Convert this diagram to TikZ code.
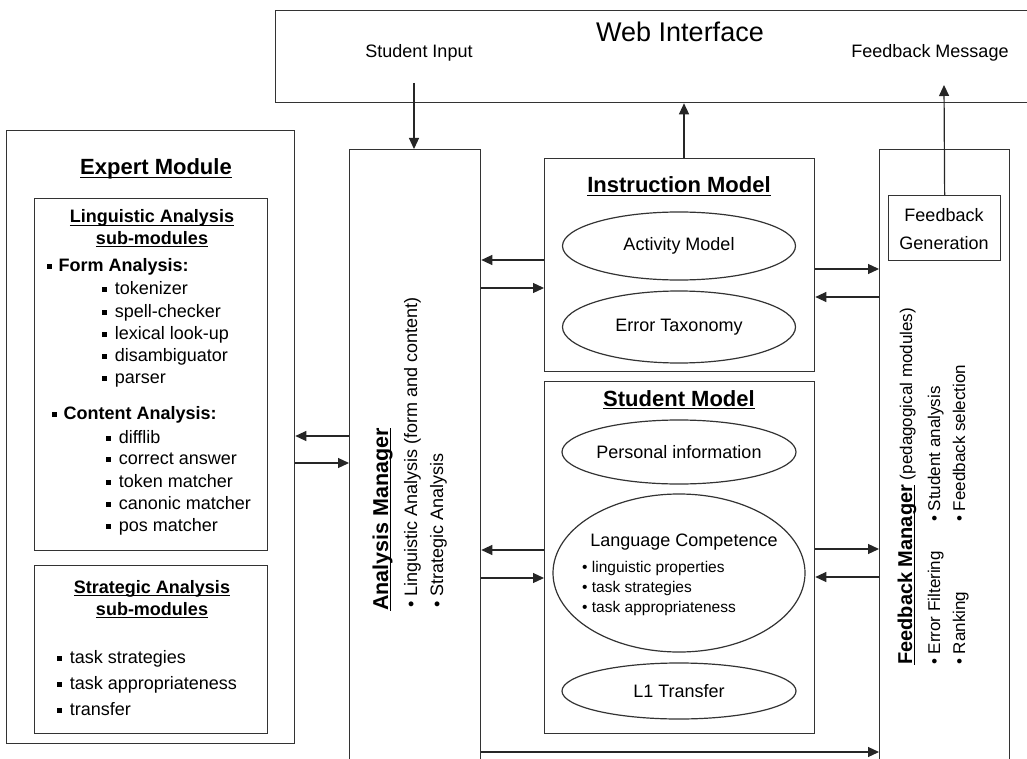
\documentclass[tikz,border=0pt]{standalone}
\usepackage{fontspec}
\setmainfont{Liberation Sans}
\usetikzlibrary{arrows.meta,shapes.geometric}
\newcommand\sqbul{\raisebox{0.12em}{\rule{0.28em}{0.28em}}}
\newcommand\fsz[1]{\fontsize{#1}{#1}\selectfont}
\newcommand\ulx[1]{\setbox0=\hbox{#1}\rlap{\rule[-3pt]{\wd0}{1.3pt}}\box0}
\begin{document}
\begin{tikzpicture}[x=1pt,y=-1pt,
  box/.style={draw=black!80,line width=1.3pt,inner sep=0pt,anchor=north west},
  ell/.style={ellipse,draw=black!80,line width=1.2pt,inner sep=0pt},
  arr/.style={line width=1.2pt,draw=black!85,-{Triangle[length=11pt,width=10pt]}},
  t/.style={inner sep=0pt,anchor=base},
  tw/.style={inner sep=0pt,anchor=base west},
  rt/.style={inner sep=0pt,anchor=base west,rotate=90}]
\useasboundingbox (0,0) rectangle (1027,759);
\fill[white] (0,0) rectangle (1027,759);

% boxes
\node[box,minimum width=760pt,minimum height=92pt] (web) at (275,10) {};
\node[box,minimum width=288pt,minimum height=613pt] (EM) at (6,130) {};
\node[box,minimum width=233pt,minimum height=352pt] (LING) at (34,198) {};
\node[box,minimum width=233pt,minimum height=168pt] (STRAT) at (34,565) {};
\node[box,minimum width=131pt,minimum height=640pt] (AM) at (349,149) {};
\node[box,minimum width=270pt,minimum height=213pt] (IM) at (544,158) {};
\node[box,minimum width=270pt,minimum height=352pt] (SM) at (544,381) {};
\node[box,minimum width=130pt,minimum height=640pt] (FM) at (879,149) {};
\node[box,minimum width=112pt,minimum height=65pt] (FG) at (888,195) {};

% ellipses
\node[ell,minimum width=233pt,minimum height=68pt] (act) at (679,246) {\fsz{18}Activity Model};
\node[ell,minimum width=233pt,minimum height=72pt] (err) at (679,327) {\fsz{18}Error Taxonomy};
\node[ell,minimum width=234pt,minimum height=64pt] (pers) at (679,452) {\fsz{18}Personal information};
\node[ell,minimum width=252pt,minimum height=158pt] (lang) at (679,573) {};
\node[ell,minimum width=234pt,minimum height=56pt] (l1) at (679,691) {\fsz{18}L1 Transfer};

% web interface texts
\node[t] (wi) at (680,42) {\fsz{27}Web Interface};
\node[t] (sin) at (419,58) {\fsz{18}Student Input};
\node[t] (fbm) at (930,58) {\fsz{18}Feedback Message};

% expert module
\node[t] (emt) at (156,175) {\fsz{22}\bfseries\ulx{Expert Module}};
\node[t] (lt1) at (152,223) {\fsz{18}\bfseries\ulx{Linguistic Analysis}};
\node[t] (lt2) at (152,244) {\fsz{18}\bfseries\ulx{sub-modules}};
\node[tw] (fa) at (47,271) {\fsz{18}\bfseries\sqbul\hspace{0.35em}Form Analysis:};
\node[tw] (f1) at (102,294) {\fsz{18}\sqbul\hspace{0.42em}tokenizer};
\node[tw] (f2) at (102,317) {\fsz{18}\sqbul\hspace{0.42em}spell-checker};
\node[tw] (f3) at (102,339) {\fsz{18}\sqbul\hspace{0.42em}lexical look-up};
\node[tw] (f4) at (102,361) {\fsz{18}\sqbul\hspace{0.42em}disambiguator};
\node[tw] (f5) at (102,383) {\fsz{18}\sqbul\hspace{0.42em}parser};
\node[tw] (ca) at (52,419) {\fsz{18}\bfseries\sqbul\hspace{0.35em}Content Analysis:};
\node[tw] (c1) at (106,443) {\fsz{18}\sqbul\hspace{0.42em}difflib};
\node[tw] (c2) at (106,464) {\fsz{18}\sqbul\hspace{0.42em}correct answer};
\node[tw] (c3) at (106,487) {\fsz{18}\sqbul\hspace{0.42em}token matcher};
\node[tw] (c4) at (106,509) {\fsz{18}\sqbul\hspace{0.42em}canonic matcher};
\node[tw] (c5) at (106,531) {\fsz{18}\sqbul\hspace{0.42em}pos matcher};
\node[t] (st1) at (152,593) {\fsz{18}\bfseries\ulx{Strategic Analysis}};
\node[t] (st2) at (152,615) {\fsz{18}\bfseries\ulx{sub-modules}};
\node[tw] (s1) at (57,663) {\fsz{18}\sqbul\hspace{0.42em}task strategies};
\node[tw] (s2) at (57,689) {\fsz{18}\sqbul\hspace{0.42em}task appropriateness};
\node[tw] (s3) at (57,715) {\fsz{18}\sqbul\hspace{0.42em}transfer};

% instruction / student model
\node[t] (imt) at (679,193) {\fsz{22}\bfseries\ulx{Instruction Model}};
\node[t] (smt) at (679,406) {\fsz{22}\bfseries\ulx{Student Model}};
\node[t] (lct) at (684,546) {\fsz{18}Language Competence};
\node[tw] (lc1) at (582,572) {\fsz{15.5}\textbullet\ linguistic properties};
\node[tw] (lc2) at (582,592) {\fsz{15.5}\textbullet\ task strategies};
\node[tw] (lc3) at (582,612) {\fsz{15.5}\textbullet\ task appropriateness};

% feedback generation
\node[t] (fg1) at (944,222) {\fsz{18}Feedback};
\node[t] (fg2) at (944,249) {\fsz{18}Generation};

% analysis manager (rotated)
\node[rt] (amt) at (388,611) {\fsz{21.5}\bfseries\ulx{Analysis Manager}};
\node[rt] (am1) at (417,608) {\fsz{18}\textbullet\ Linguistic Analysis (form and content)};
\node[rt] (am2) at (443,608) {\fsz{18}\textbullet\ Strategic Analysis};

% feedback manager (rotated)
\node[rt] (fmt) at (912,665) {\fsz{17}{\fsz{20}\bfseries\ulx{Feedback Manager}} (pedagogical modules)};
\node[rt] (fm1) at (940,665) {\fsz{17}\textbullet\ Error Filtering};
\node[rt] (fm2) at (940,522) {\fsz{17}\textbullet\ Student analysis};
\node[rt] (fm3) at (965,665) {\fsz{17}\textbullet\ Ranking};
\node[rt] (fm4) at (965,522) {\fsz{17}\textbullet\ Feedback selection};

% connectors
\coordinate (si) at (414,83);
\coordinate (imx) at (684,0);
\coordinate (fbt) at (944,85);
\draw[arr] (si) -- (si |- AM.north);
\draw[arr] (IM.north -| imx) -- (web.south -| imx);
\draw[arr] (FG.north) -- (fbt);

\coordinate (ya) at (0,436);
\coordinate (yb) at (0,463);
\draw[arr] (AM.west |- ya) -- (EM.east |- ya);
\draw[arr] (EM.east |- yb) -- (AM.west |- yb);

\coordinate (y1) at (0,260);
\coordinate (y2) at (0,288);
\draw[arr] (IM.west |- y1) -- (AM.east |- y1);
\draw[arr] (AM.east |- y2) -- (IM.west |- y2);

\coordinate (y3) at (0,269);
\coordinate (y4) at (0,297);
\draw[arr] (IM.east |- y3) -- (FM.west |- y3);
\draw[arr] (FM.west |- y4) -- (IM.east |- y4);

\coordinate (y5) at (0,550);
\coordinate (y6) at (0,578);
\draw[arr] (SM.west |- y5) -- (AM.east |- y5);
\draw[arr] (AM.east |- y6) -- (SM.west |- y6);

\coordinate (y7) at (0,549);
\coordinate (y8) at (0,577);
\draw[arr] (SM.east |- y7) -- (FM.west |- y7);
\draw[arr] (FM.west |- y8) -- (SM.east |- y8);

\coordinate (y9) at (0,752);
\draw[arr] (AM.east |- y9) -- (FM.west |- y9);
\end{tikzpicture}
\end{document}
